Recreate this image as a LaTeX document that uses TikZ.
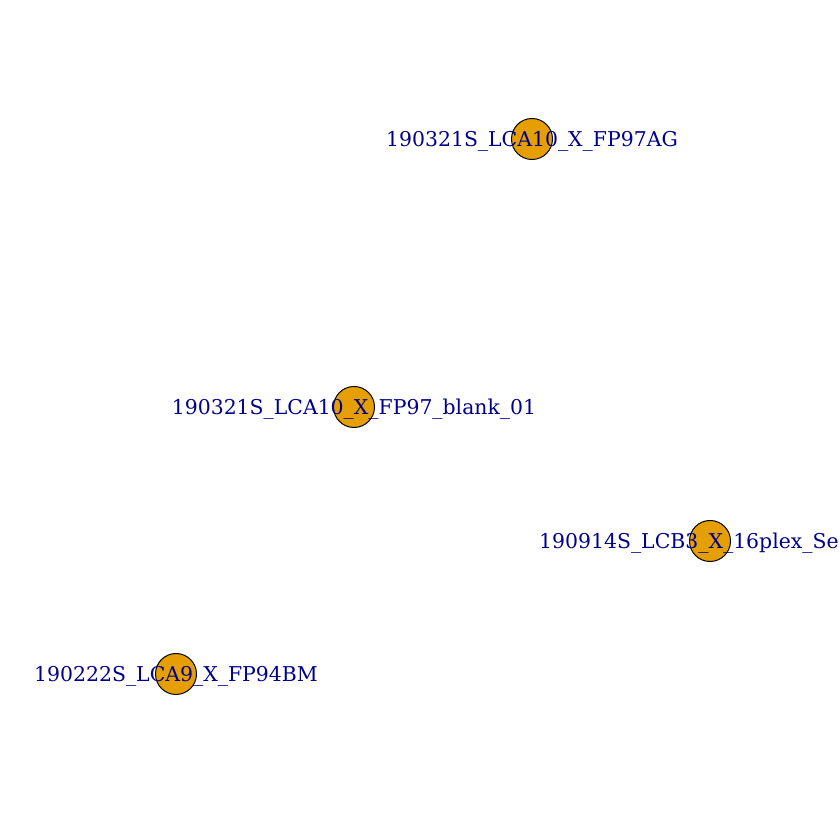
\documentclass[tikz,border=0pt]{standalone}
\usepackage{fontspec}
\setmainfont{DejaVu Serif}
\definecolor{nodeorange}{HTML}{E69F00}
\definecolor{labelblue}{RGB}{0,0,139}
\begin{document}
\begin{tikzpicture}[x=1pt,y=1pt,
  vtx/.style={circle,draw=black,fill=nodeorange,line width=1pt,minimum size=41pt,inner sep=0pt},
  lbl/.style={text=labelblue,font=\fontsize{20.4}{24}\selectfont,inner sep=0pt,yshift=-2pt}]
\useasboundingbox (0,0) rectangle (840,840);
\clip (0,0) rectangle (840,840);
\node[vtx] (a) at (532,701) {};
\node[vtx] (b) at (354,433) {};
\node[vtx] (c) at (710,299) {};
\node[vtx] (d) at (176,166) {};
\node[lbl] (la) at (a) {190321S\_LCA10\_X\_FP97AG};
\node[lbl] (lb) at (b) {190321S\_LCA10\_X\_FP97\_blank\_01};
\node[lbl,anchor=west] (lc) at (539,299) {190914S\_LCB3\_X\_16plex\_Se};
\node[lbl] (ld) at (d) {190222S\_LCA9\_X\_FP94BM};
\end{tikzpicture}
\end{document}
